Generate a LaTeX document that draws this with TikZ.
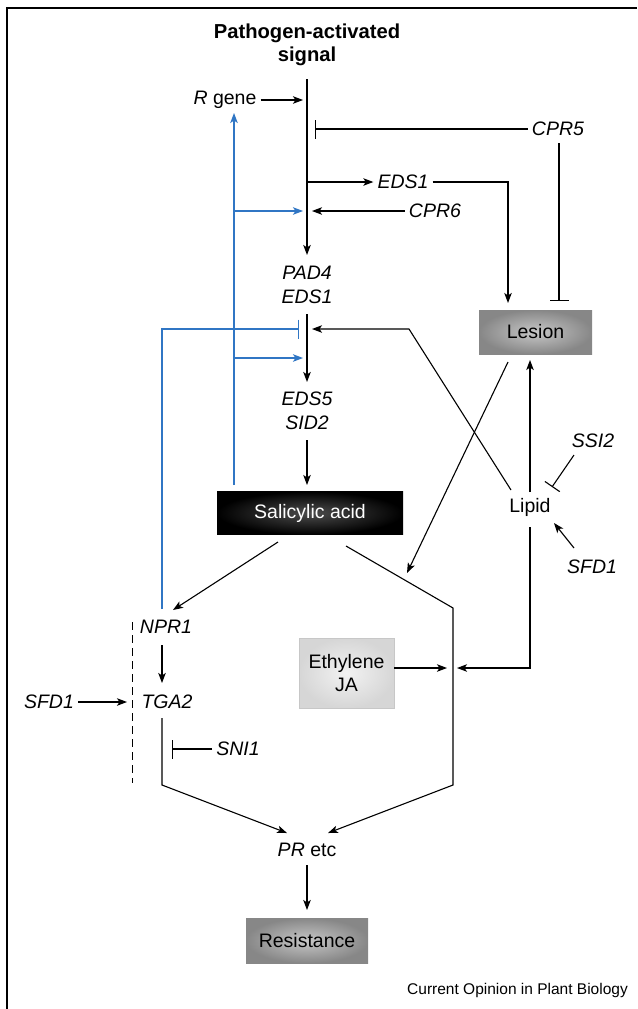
\documentclass[tikz,border=0pt]{standalone}
\usepackage{fontspec}
\setmainfont{Liberation Sans}
\usetikzlibrary{arrows.meta}
\definecolor{sablue}{RGB}{48,118,196}

\begin{document}
\begin{tikzpicture}[x=1pt,y=-1pt,font=\fontsize{19.5}{23.5}\selectfont,
    lab/.style={inner sep=4pt,align=center},
    gene/.style={lab,font=\fontsize{19.5}{23.5}\selectfont\itshape},
    arr/.style={line width=1.1pt,-{Stealth[length=10pt,width=7.5pt,inset=2.5pt]}},
    inh/.style={line width=1.1pt,-{Bar[width=19pt]}},
    greybox/.style={shading=radial,inner color=black!22,outer color=black!47,inner sep=0pt}]
  \useasboundingbox (0,0) rectangle (637,1009);
  \draw[line width=2.2pt] (7,1009) -- (7,8) -- (637,8);

  % nodes
  \node[lab,font=\fontsize{20.2}{23}\selectfont\bfseries] (sig) at (307,45) {Pathogen-activated\\signal};
  \node[lab] (rg) at (225,100) {\textit{R} gene};
  \node[gene] (cpr5) at (558,129) {CPR5};
  \node[gene] (eds1) at (403,182) {EDS1};
  \node[gene] (cpr6) at (435,211) {CPR6};
  \node[gene] (pad4) at (307,285) {PAD4\\EDS1};
  \node[gene] (eds5) at (307,411) {EDS5\\SID2};
  \node[shading=radial,inner color=black!70,outer color=black,text=white,
    minimum width=186pt,minimum height=43pt,inner sep=0pt] (sa) at (310,513) {Salicylic acid};
  \node[greybox,minimum width=113pt,minimum height=44pt] (les) at (535.5,332) {Lesion};
  \node[lab] (lip) at (530,507) {Lipid};
  \node[gene] (ssi2) at (593,441) {SSI2};
  \node[gene] (sfdr) at (592,567) {SFD1};
  \node[gene] (npr1) at (166,627) {NPR1};
  \node[gene] (tga2) at (167,702) {TGA2};
  \node[gene] (sfdl) at (49,702) {SFD1};
  \node[gene] (sni1) at (238,749) {SNI1};
  \node[shading=radial,inner color=black!5,outer color=black!16,draw=black!22,line width=0.6pt,
    align=center,minimum width=95pt,minimum height=70pt,inner sep=0pt] (eth) at (346.5,673) {Ethylene\\JA};
  \node[lab] (pr) at (307,850) {\textit{PR} etc};
  \node[greybox,minimum width=122pt,minimum height=45pt] (res) at (307,940.5) {Resistance};
  \node[anchor=east,inner sep=0pt,font=\fontsize{15.5}{18}\selectfont] (cop) at (628,990)
    {Current Opinion in Plant Biology};

  % junction points
  \coordinate (m0) at (307,79);
  \coordinate (m1) at (307,255);
  \coordinate (m2) at (307,314);
  \coordinate (m3) at (307,382);
  \coordinate (jr) at (303,100);
  \coordinate (j5) at (315,129);
  \coordinate (je) at (307,182);
  \coordinate (j6) at (312,211);
  \coordinate (ec) at (508,182);
  \coordinate (lt1) at (508,303);
  \coordinate (lt2) at (559,301);
  \coordinate (c5) at (559,143);
  \coordinate (lb1) at (508,362);
  \coordinate (lb2) at (530,360);
  \coordinate (lx) at (407,573);
  \coordinate (lp0) at (511,490);
  \coordinate (lp1) at (409,329);
  \coordinate (lp2) at (312,329);
  \coordinate (lu) at (530,492);
  \coordinate (ld) at (530,527);
  \coordinate (lc) at (530,668);
  \coordinate (li) at (457,668);
  \coordinate (ei) at (447,668);
  \coordinate (s0) at (307,440);
  \coordinate (s1) at (307,485);
  \coordinate (sl) at (278,542);
  \coordinate (sr) at (346,546);
  \coordinate (rc1) at (453,608);
  \coordinate (rc2) at (453,785);
  \coordinate (pr1) at (328,833);
  \coordinate (pr2) at (287,833);
  \coordinate (n0) at (173,610);
  \coordinate (n1) at (162,645);
  \coordinate (n2) at (162,683);
  \coordinate (t0) at (162,718);
  \coordinate (t1) at (162,785);
  \coordinate (tl) at (127,702);
  \coordinate (si) at (172,749);
  \coordinate (i0) at (574,455);
  \coordinate (i1) at (552,487);
  \coordinate (f0) at (574,548);
  \coordinate (f1) at (554,523);
  \coordinate (p0) at (307,865);
  \coordinate (p1) at (307,910);
  \coordinate (b0) at (234,485);
  \coordinate (b1) at (234,113);
  \coordinate (b2) at (234,211);
  \coordinate (b3) at (303,211);
  \coordinate (b4) at (234,358);
  \coordinate (b5) at (303,358);
  \coordinate (b6) at (162,609);
  \coordinate (b7) at (162,329);
  \coordinate (b8) at (299,329);
  \coordinate (d0) at (132,622);
  \coordinate (d1) at (132,783);

  % connectors
  \draw[arr,line width=1.4pt] (m0) -- (m1);
  \draw[arr,line width=1.4pt] (m2) -- (m3);
  \draw[arr] (rg) -- (jr);
  \draw[inh] (cpr5) -- (j5);
  \draw[inh] (c5) -- (lt2);
  \draw[arr] (je) -- (eds1);
  \draw[arr] (eds1) -- (ec) -- (lt1);
  \draw[arr] (cpr6) -- (j6);
  \draw[arr] (lp0) -- (lp1) -- (lp2);
  \draw[arr] (s0) -- (s1);
  \draw[arr] (lb1) -- (lx);
  \draw[arr] (lu) -- (lb2);
  \draw[inh,-{Bar[width=18pt]}] (i0) -- (i1);
  \draw[arr] (f0) -- (f1);
  \draw[arr] (sl) -- (n0);
  \draw[arr] (sr) -- (rc1) -- (rc2) -- (pr1);
  \draw[arr] (eth.east |- ei) -- (ei);
  \draw[arr] (ld) -- (lc) -- (li);
  \draw[arr] (n1) -- (n2);
  \draw[arr] (sfdl) -- (tl);
  \draw[arr] (t0) -- (t1) -- (pr2);
  \draw[inh] (sni1) -- (si);
  \draw[line width=1pt,dash pattern=on 8pt off 5pt] (d0) -- (d1);
  \draw[arr] (p0) -- (p1);

  % feedback from salicylic acid
  \draw[arr,sablue,line width=1.2pt] (b0) -- (b1);
  \draw[arr,sablue,line width=1.2pt] (b2) -- (b3);
  \draw[arr,sablue,line width=1.2pt] (b4) -- (b5);
  \draw[inh,sablue,line width=1.2pt] (b6) -- (b7) -- (b8);
\end{tikzpicture}
\end{document}
